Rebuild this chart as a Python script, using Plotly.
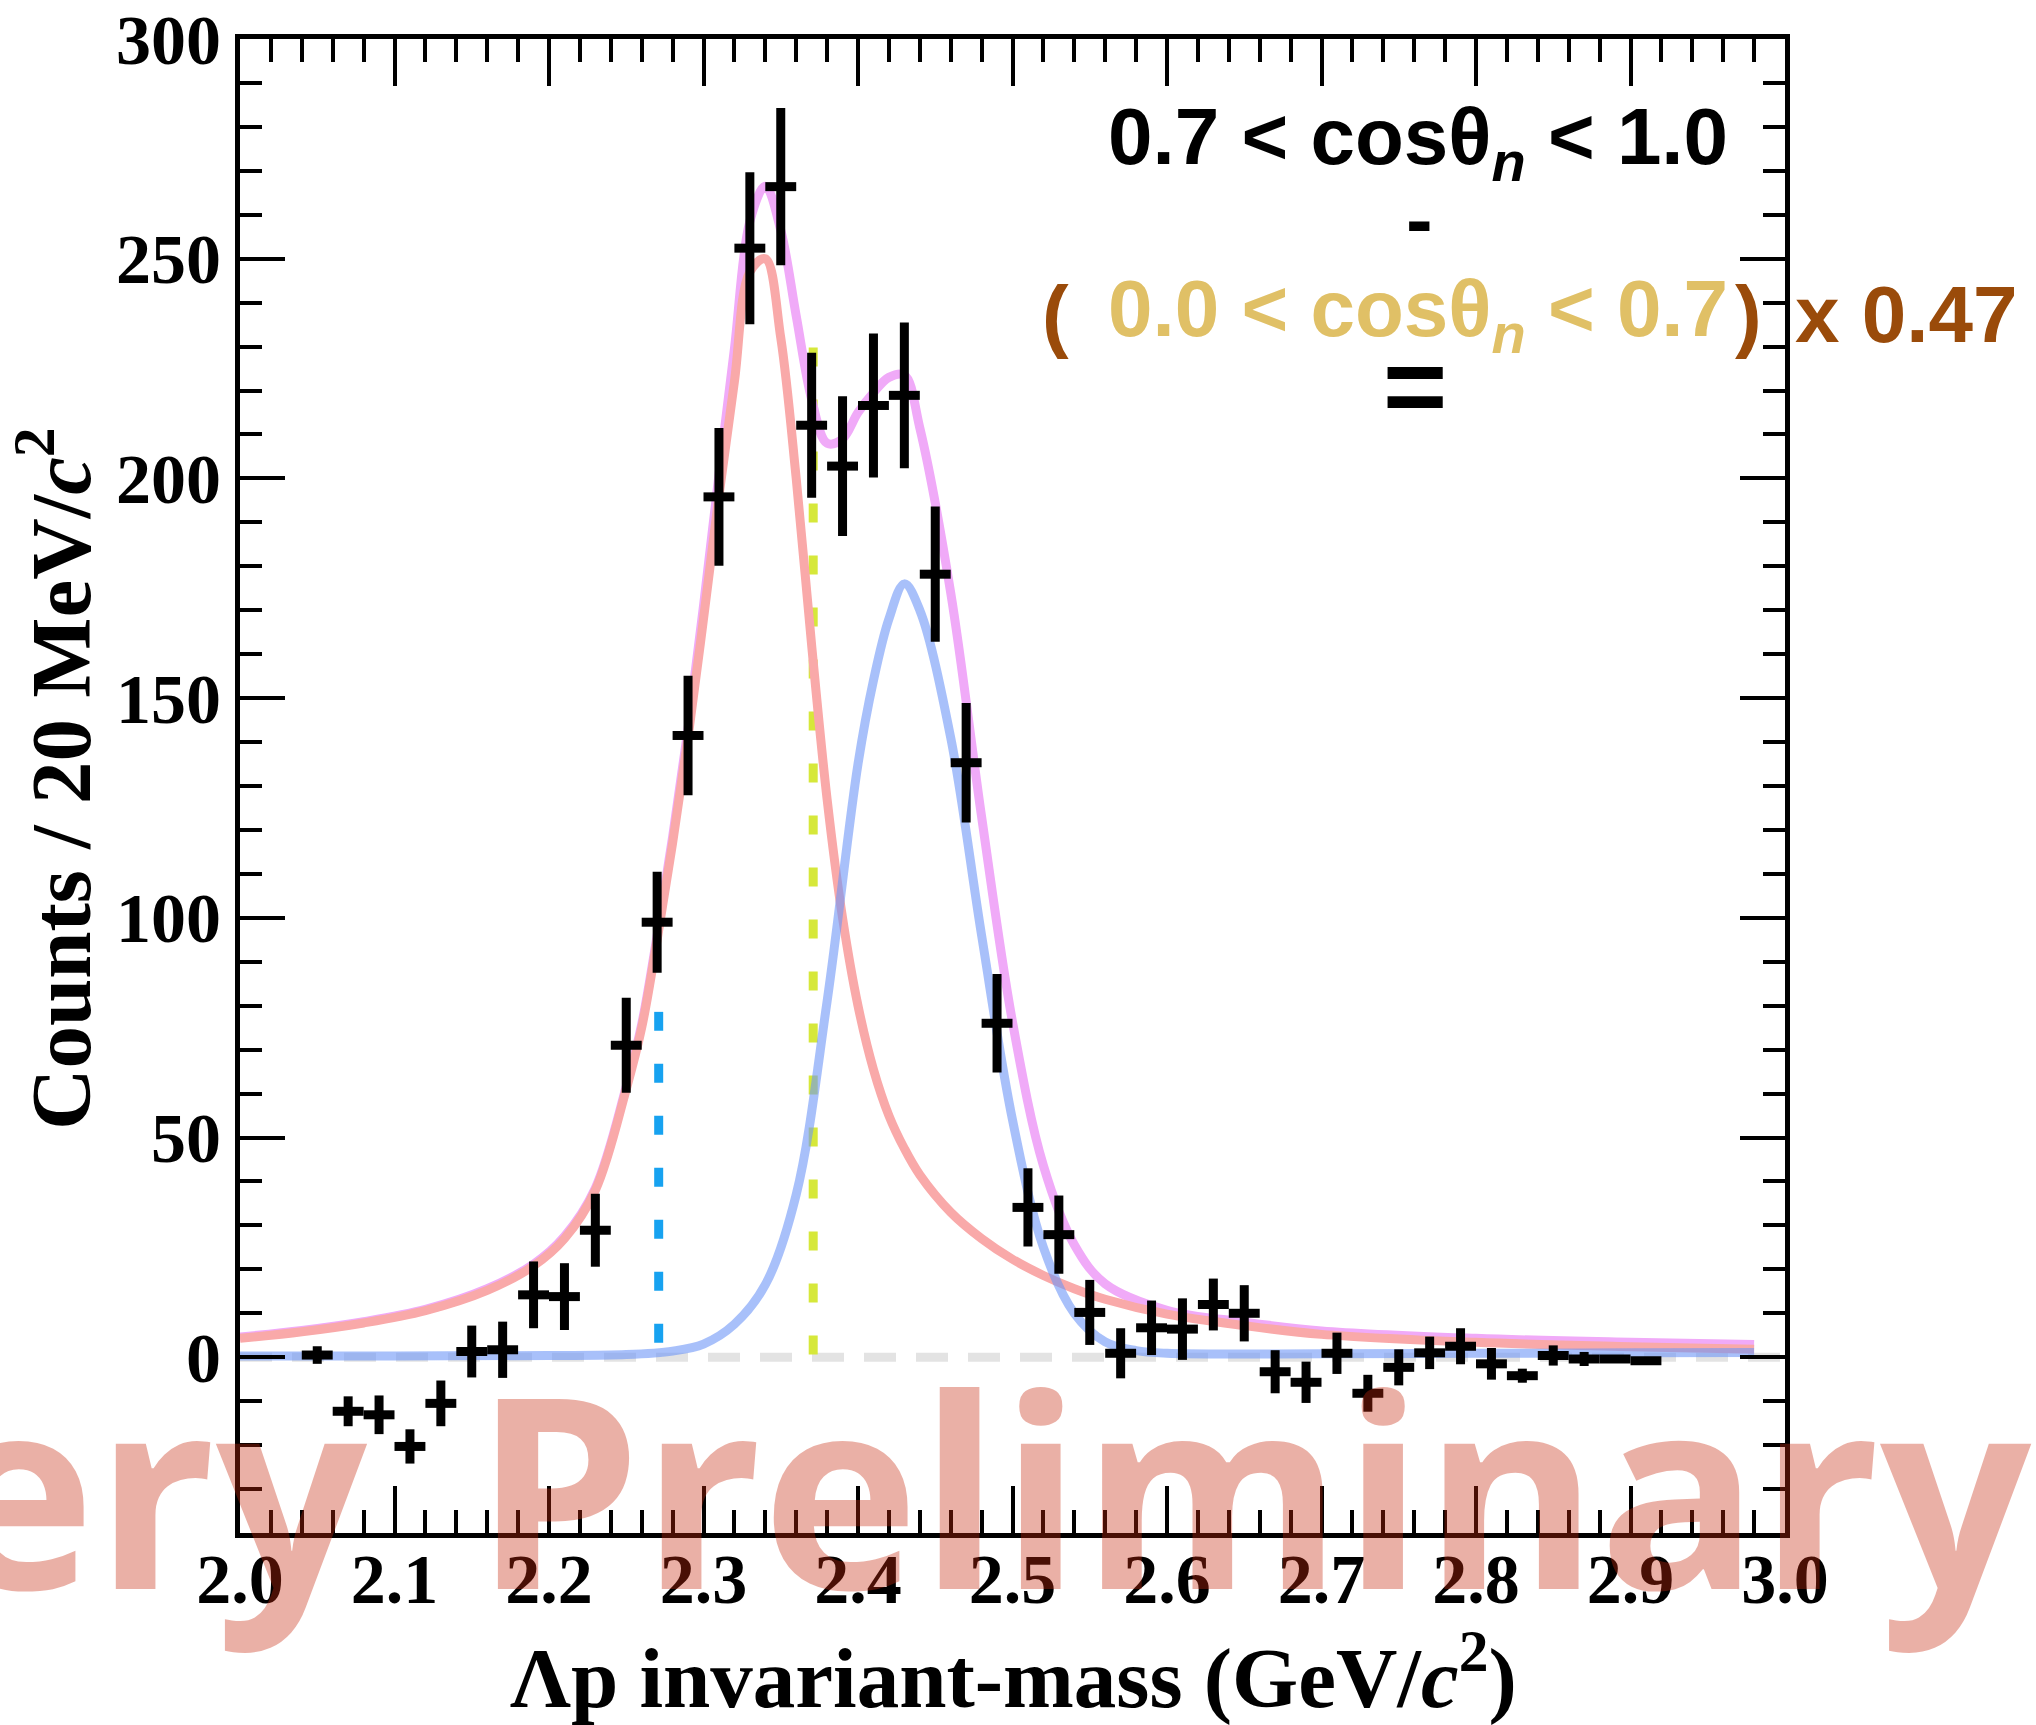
import plotly.graph_objects as go

# ---------------- data ----------------
mass = [2.05, 2.07, 2.09, 2.11, 2.13, 2.15, 2.17, 2.19, 2.21, 2.23,
        2.25, 2.27, 2.29, 2.31, 2.33, 2.35, 2.37, 2.39, 2.41, 2.43,
        2.45, 2.47, 2.49, 2.51, 2.53, 2.55, 2.57, 2.59, 2.61, 2.63,
        2.65, 2.67, 2.69, 2.71, 2.73, 2.75, 2.77, 2.79, 2.81, 2.83,
        2.85, 2.87, 2.89, 2.91]
counts = [0.5, -12.3, -13.1, -20.3, -10.5, 1.3, 1.7, 14.2, 13.8, 28.9,
          71.0, 99.0, 141.5, 195.8, 252.4, 266.4, 212.1, 202.8, 216.6, 218.9,
          178.2, 135.3, 76.0, 34.1, 27.9, 10.2, 0.9, 6.7, 6.4, 12.0,
          10.0, -3.3, -5.7, 0.9, -8.2, -2.3, 1.0, 2.5, -1.5, -4.2,
          0.4, -0.4, -0.4, -0.8]
count_err = [2.0, 3.4, 4.4, 3.9, 5.2, 5.9, 6.4, 7.6, 7.6, 8.3,
             10.8, 11.5, 13.6, 15.7, 17.3, 17.9, 16.5, 15.9, 16.4, 16.6,
             15.4, 13.6, 11.2, 8.9, 8.9, 7.4, 5.7, 6.2, 7.0, 5.9,
             6.4, 4.9, 4.7, 4.7, 4.2, 4.1, 3.7, 4.1, 3.6, 1.6,
             2.3, 1.6, 0.8, 0.8]
bin_half = [0.01] * len(mass)

# fit component 1 (red) and total fit (magenta), read at the same masses
fit_x = [2.00, 2.04, 2.08, 2.12, 2.16, 2.19, 2.21, 2.23, 2.25, 2.26,
         2.27, 2.28, 2.29, 2.30, 2.31, 2.32, 2.33, 2.34, 2.35, 2.36,
         2.37, 2.38, 2.39, 2.40, 2.41, 2.42, 2.43, 2.44, 2.46, 2.48,
         2.50, 2.52, 2.54, 2.56, 2.60, 2.65, 2.70, 2.80, 2.90, 2.98]
red_y = [4.3, 5.8, 7.8, 10.6, 15.2, 20.8, 27.0, 38.0, 61.0, 75.0,
         95.0, 117.0, 141.0, 168.0, 196.0, 222.0, 247.0, 250.0, 232.0, 200.0,
         162.0, 127.0, 100.0, 80.0, 65.5, 55.0, 47.5, 41.5, 33.0, 27.0,
         22.3, 18.6, 15.6, 13.2, 9.8, 7.2, 5.2, 3.4, 2.4, 1.8]
sum_y = [4.6, 6.1, 8.1, 10.9, 15.6, 21.2, 27.5, 38.5, 61.6, 75.8,
         96.0, 118.4, 143.0, 171.0, 200.8, 229.5, 258.5, 266.5, 256.5, 237.0,
         218.0, 208.0, 209.0, 215.0, 219.5, 223.0, 223.5, 211.5, 174.0, 123.0,
         76.3, 43.6, 25.6, 16.7, 10.7, 8.0, 6.0, 4.3, 3.4, 2.9]

# fit component 2 (blue)
blue_x = [2.00, 2.10, 2.20, 2.25, 2.28, 2.30, 2.32, 2.34, 2.36, 2.38,
          2.40, 2.41, 2.42, 2.43, 2.44, 2.46, 2.48, 2.50, 2.52, 2.54,
          2.56, 2.58, 2.60, 2.70, 2.80, 2.90, 2.98]
blue_y = [0.3, 0.3, 0.4, 0.6, 1.4, 3.0, 7.5, 16.5, 37.0, 81.0,
          135.0, 154.0, 168.0, 176.0, 170.0, 141.0, 96.0, 54.0, 25.0, 10.0,
          3.5, 1.5, 0.9, 0.8, 0.9, 1.0, 1.1]

# thresholds (vertical dotted lines) and zero line
thr1_x = [2.271, 2.271]
thr1_y = [78.6, 0.0]
thr2_x = [2.371, 2.371]
thr2_y = [229.8, 0.0]
zero_x = [2.0, 3.0]
zero_y = [0.0, 0.0]

x_ticks = [2.0, 2.1, 2.2, 2.3, 2.4, 2.5, 2.6, 2.7, 2.8, 2.9, 3.0]
x_ticklabels = ["2.0", "2.1", "2.2", "2.3", "2.4", "2.5", "2.6", "2.7", "2.8", "2.9", "3.0"]
y_ticks = [0, 50, 100, 150, 200, 250, 300]
y_ticklabels = ["0", "50", "100", "150", "200", "250", "300"]

# ---------------- figure ----------------
fig = go.Figure()

fig.add_trace(go.Scatter(x=zero_x, y=zero_y, mode="lines",
                         line=dict(color="#e3e3e3", width=9, dash="32px,20px"),
                         hoverinfo="skip", showlegend=False))
fig.add_trace(go.Scatter(x=thr1_x, y=thr1_y, mode="lines",
                         line=dict(color="#17a2f0", width=9, dash="19px,33px"),
                         showlegend=False))
fig.add_trace(go.Scatter(x=thr2_x, y=thr2_y, mode="lines",
                         line=dict(color="#d6e83a", width=9, dash="19px,33px"),
                         showlegend=False))
fig.add_trace(go.Scatter(x=fit_x, y=sum_y, mode="lines", line_shape="spline",
                         line=dict(color="#f0aaf8", width=9), showlegend=False))
fig.add_trace(go.Scatter(x=fit_x, y=red_y, mode="lines", line_shape="spline",
                         line=dict(color="#f9a9a9", width=9), showlegend=False))
fig.add_trace(go.Scatter(x=blue_x, y=blue_y, mode="lines", line_shape="spline",
                         line=dict(color="rgba(110,150,247,0.6)", width=9), showlegend=False))
fig.add_trace(go.Scatter(
    x=mass, y=counts, mode="markers",
    marker=dict(size=1, color="black"),
    error_x=dict(type="data", array=bin_half, width=0, thickness=9, color="black"),
    error_y=dict(type="data", array=count_err, width=0, thickness=9, color="black"),
    showlegend=False))

tickfont = dict(family="Liberation Serif, Times New Roman, serif", size=70, color="black", weight="bold")

fig.update_xaxes(range=[2.0, 3.0], tickvals=x_ticks, ticktext=x_ticklabels,
                 ticks="inside", ticklen=47, tickwidth=4, tickcolor="black",
                 showline=True, linewidth=5, linecolor="black", mirror="allticks",
                 showgrid=False, zeroline=False, tickfont=tickfont,
                 automargin=False, ticklabelstandoff=-19,
                 minor=dict(dtick=0.02, tick0=2.0, ticks="inside", ticklen=23,
                            tickwidth=4, tickcolor="black", showgrid=False))
fig.update_yaxes(range=[-40, 300], tickvals=y_ticks, ticktext=y_ticklabels,
                 ticks="inside", ticklen=45, tickwidth=4, tickcolor="black",
                 showline=True, linewidth=5, linecolor="black", mirror="allticks",
                 showgrid=False, zeroline=False, tickfont=tickfont,
                 automargin=False,
                 minor=dict(dtick=10, tick0=0, ticks="inside", ticklen=22,
                            tickwidth=4, tickcolor="black", showgrid=False))

W, H = 2036, 1725
L, R, T, B = 240, 251, 39, 192
pw, ph = W - L - R, H - T - B


def px(xp):
    return (xp - L) / pw


def py(yp):
    return (H - B - yp) / ph


sans = "Liberation Sans, Arial, Helvetica, sans-serif"
serif = "Liberation Serif, Times New Roman, serif"
brown = "#9a4b0a"
gold = "#e0c066"
wm_font = dict(family="Open Sans, Noto Sans, sans-serif", size=266,
               color="rgba(198,40,14,0.37)", weight="bold")


def label(xc, yc, text, size, color, family=sans, **kw):
    return dict(x=px(xc), y=py(yc), xref="paper", yref="paper", showarrow=False,
                text=text, font=dict(family=family, size=size, color=color, weight="bold"),
                xanchor="center", yanchor="middle", **kw)


annotations = [
    label(1013, 1672, "Λp invariant-mass (GeV/<i>c</i><sup>2</sup>)", 85, "black", serif),
    label(54, 779, "Counts / 20 MeV/<i>c</i><sup>2</sup>", 85, "black", serif, textangle=-90),
    label(1418, 143, "0.7 &lt; cosθ<sub><i>n</i></sub> &lt; 1.0", 80, "black"),
    label(1419, 219, "-", 80, "black"),
    label(1055, 315, "(", 80, brown),
    label(1418, 315, "0.0 &lt; cosθ<sub><i>n</i></sub> &lt; 0.7", 80, gold),
    label(1748, 315, ")", 80, brown),
    label(1906, 315, "x 0.47", 80, brown),
    label(1415, 385, "=", 110, "black"),
    # watermark
    dict(x=px(372), y=py(1486), xref="paper", yref="paper", showarrow=False,
         text="Very", font=wm_font, xanchor="right", yanchor="middle"),
    dict(x=px(2036), y=py(1486), xref="paper", yref="paper", showarrow=False,
         text="Preliminary", font=wm_font, xanchor="right", yanchor="middle"),
]

fig.update_layout(width=W, height=H, autosize=False,
                  margin=dict(l=L, r=R, t=T, b=B, pad=0),
                  paper_bgcolor="white", plot_bgcolor="white",
                  showlegend=False, annotations=annotations)

fig.write_html("out.html")
